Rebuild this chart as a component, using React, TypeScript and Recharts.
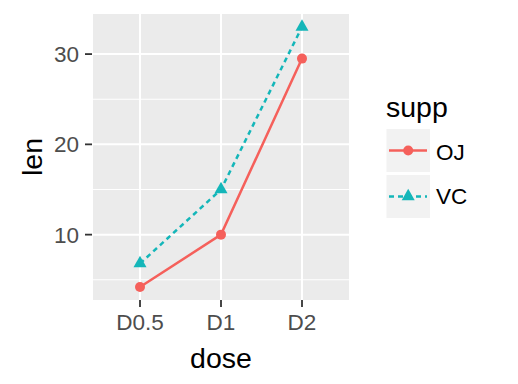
import { LineChart, Line, XAxis, YAxis, CartesianGrid, Legend, Label } from 'recharts';

const doses = ['D0.5', 'D1', 'D2'];
const ojLen = [4.2, 10, 29.5];
const vcLen = [6.8, 15, 33];
const yTicks = [10, 20, 30];
const yMinor = [5, 15, 25];

const OJ_COLOR = '#F5605B';
const VC_COLOR = '#14B6B9';
const FONT = '"Liberation Sans", Arial, Helvetica, sans-serif';
const LINE_W = 2.5;

const data = doses.map((dose, i) => ({ dose, OJ: ojLen[i], VC: vcLen[i] }));

const Circle = (props: any) => {
  const { cx, cy, key } = props;
  if (cx == null || cy == null) return null;
  return <circle key={key} cx={cx} cy={cy} r={5} fill={OJ_COLOR} />;
};

const Triangle = (props: any) => {
  const { cx, cy, key } = props;
  if (cx == null || cy == null) return null;
  const w = 13;
  const h = 11.5;
  const pts = `${cx},${cy - (2 * h) / 3} ${cx + w / 2},${cy + h / 3} ${cx - w / 2},${cy + h / 3}`;
  return <polygon key={key} points={pts} fill={VC_COLOR} />;
};

// ggplot-style legend, drawn as an overlay
const LegendBox = () => (
  <svg width={518} height={384} style={{ position: 'absolute', left: 0, top: 0, pointerEvents: 'none' }}>
    <text x={386} y={116.5} fontSize={28.5} fontFamily={FONT} fill="#000">
      supp
    </text>
    <rect x={386.5} y={129} width={43.5} height={43} fill="#F2F2F2" />
    <line x1={389} x2={427} y1={150.5} y2={150.5} stroke={OJ_COLOR} strokeWidth={LINE_W} />
    <circle cx={408.2} cy={150.5} r={5} fill={OJ_COLOR} />
    <text x={436} y={160} fontSize={22.5} fontFamily={FONT} fill="#000">
      OJ
    </text>
    <rect x={386.5} y={175} width={43.5} height={43} fill="#F2F2F2" />
    <line x1={389} x2={427} y1={196.5} y2={196.5} stroke={VC_COLOR} strokeWidth={LINE_W} strokeDasharray="5 4" />
    <Triangle cx={408.2} cy={196.5} />
    <text x={436} y={204} fontSize={22.5} fontFamily={FONT} fill="#000">
      VC
    </text>
  </svg>
);

const App = () => {
  return (
    <div style={{ position: 'absolute', left: 0, top: 0, width: 518, height: 384, background: '#fff' }}>
      <LineChart width={518} height={384} data={data} margin={{ top: 14, right: 168, bottom: 0, left: 0 }}>
        <CartesianGrid
          fill="#EBEBEB"
          stroke="#FFFFFF"
          strokeWidth={1}
          vertical={false}
          horizontalValues={yMinor}
        />
        <CartesianGrid stroke="#FFFFFF" strokeWidth={2} horizontalValues={yTicks} />
        <XAxis
          dataKey="dose"
          type="category"
          padding={{ left: 48, right: 48 }}
          height={84}
          axisLine={false}
          tickSize={7}
          tickMargin={7}
          tickLine={{ stroke: '#333333', strokeWidth: 1.8 }}
          tick={{ fill: '#4D4D4D', fontSize: 22.5, fontFamily: FONT }}
        >
          <Label
            content={() => (
              <text x={221} y={368} textAnchor="middle" fontSize={28.5} fontFamily={FONT} fill="#000">
                dose
              </text>
            )}
          />
        </XAxis>
        <YAxis
          type="number"
          domain={[2.76, 34.44]}
          allowDataOverflow
          ticks={yTicks}
          width={92}
          axisLine={false}
          tickSize={7}
          tickMargin={6}
          tickLine={{ stroke: '#333333', strokeWidth: 1.8 }}
          tick={{ fill: '#4D4D4D', fontSize: 22.5, fontFamily: FONT }}
        >
          <Label
            content={() => (
              <text
                x={41.5}
                y={157}
                transform="rotate(-90 41.5 157)"
                textAnchor="middle"
                fontSize={28.5}
                fontFamily={FONT}
                fill="#000"
              >
                len
              </text>
            )}
          />
        </YAxis>
        <Line
          dataKey="OJ"
          stroke={OJ_COLOR}
          strokeWidth={LINE_W}
          dot={Circle}
          activeDot={false}
          isAnimationActive={false}
        />
        <Line
          dataKey="VC"
          stroke={VC_COLOR}
          strokeWidth={LINE_W}
          strokeDasharray="5 4"
          dot={Triangle}
          activeDot={false}
          isAnimationActive={false}
        />
        <Legend
          content={() => <LegendBox />}
          wrapperStyle={{ position: 'absolute', left: 0, top: 0, width: 0, height: 0 }}
        />
      </LineChart>
    </div>
  );
};

export default App;
